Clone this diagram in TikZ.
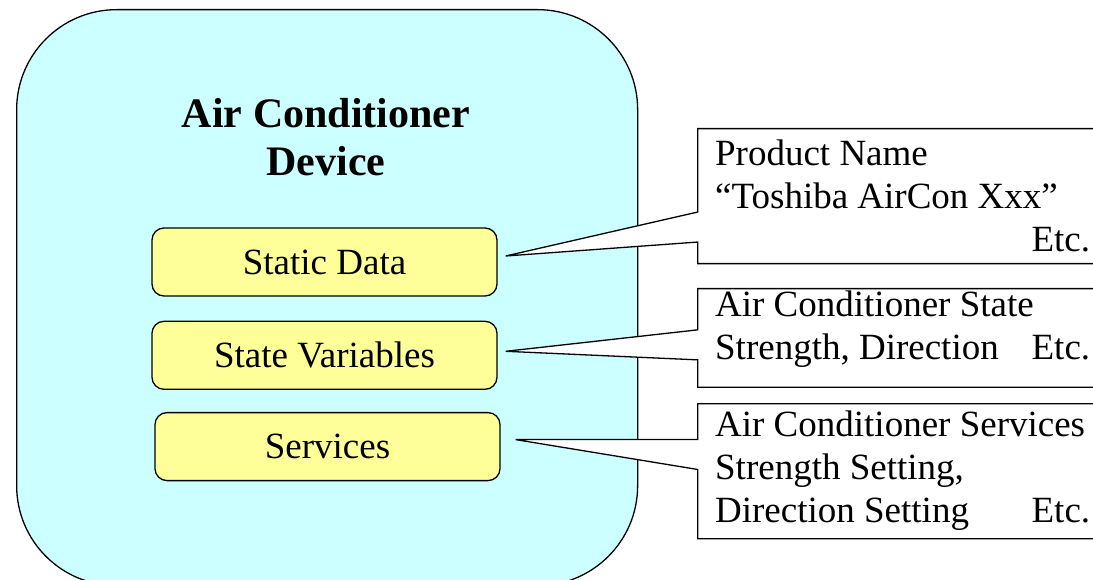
\documentclass[tikz,border=0pt]{standalone}
\usepackage{fontspec}
\setmainfont{Liberation Serif}
\usepackage{tikz}
\usetikzlibrary{positioning,shapes.callouts}
\definecolor{devcyan}{HTML}{CCFFFF}
\definecolor{partyellow}{HTML}{FFFF99}
\tikzset{
    device-box/.style = {draw=black, fill=devcyan, line width=1.3pt, rectangle, rounded corners=100pt, minimum width=621pt, minimum height=576pt, anchor=north west},
    device-title/.style = {align=center, font=\fontsize{42}{48}\selectfont\bfseries},
    part-box/.style = {draw=black, fill=partyellow, line width=1.3pt, rectangle, rounded corners=12pt, minimum width=345pt, minimum height=68pt, font=\fontsize{37}{42}\selectfont},
    note-box/.style = {draw=black, fill=white, line width=1.3pt, rectangle callout, callout pointer width=30pt, minimum width=410pt, text width=375pt, inner xsep=15pt, inner ysep=5pt, align=flush left, anchor=north west, font=\fontsize{37}{43}\selectfont},
}
\newcommand{\etcright}{\hskip 0pt plus 1filll Etc.}

\begin{document}
\begin{tikzpicture}[x=1pt,y=-1pt]
\clip (0,0) rectangle (1093,580);
\node[device-box] (device) at (16,9) {};
\node[device-title] (title) at (326,137) {Air Conditioner\\Device};
\node[part-box] (static) at (324.5,262) {Static Data};
\node[part-box, below=24pt of static] (state) {State Variables};
\node[part-box, below=22pt of state, xshift=3pt] (services) {Services};
\coordinate (static-tip) at ([xshift=8pt,yshift=6pt]static.east);
\coordinate (state-tip) at ([xshift=8pt,yshift=4pt]state.east);
\coordinate (services-tip) at ([xshift=15pt,yshift=7pt]services.east);
\node[note-box, minimum height=135pt, callout absolute pointer=(static-tip)] (product) at (697,128) {Product Name\\``Toshiba AirCon Xxx''\\\etcright};
\node[note-box, minimum height=98pt, inner ysep=2pt, callout absolute pointer=(state-tip)] (variables) at (697,288) {Air Conditioner State\\Strength, Direction\etcright\rule[-26pt]{0pt}{26pt}};
\node[note-box, minimum height=135pt, callout absolute pointer=(services-tip)] (actions) at (697,403) {Air Conditioner Services\\Strength Setting,\\Direction Setting\etcright};
\end{tikzpicture}
\end{document}
